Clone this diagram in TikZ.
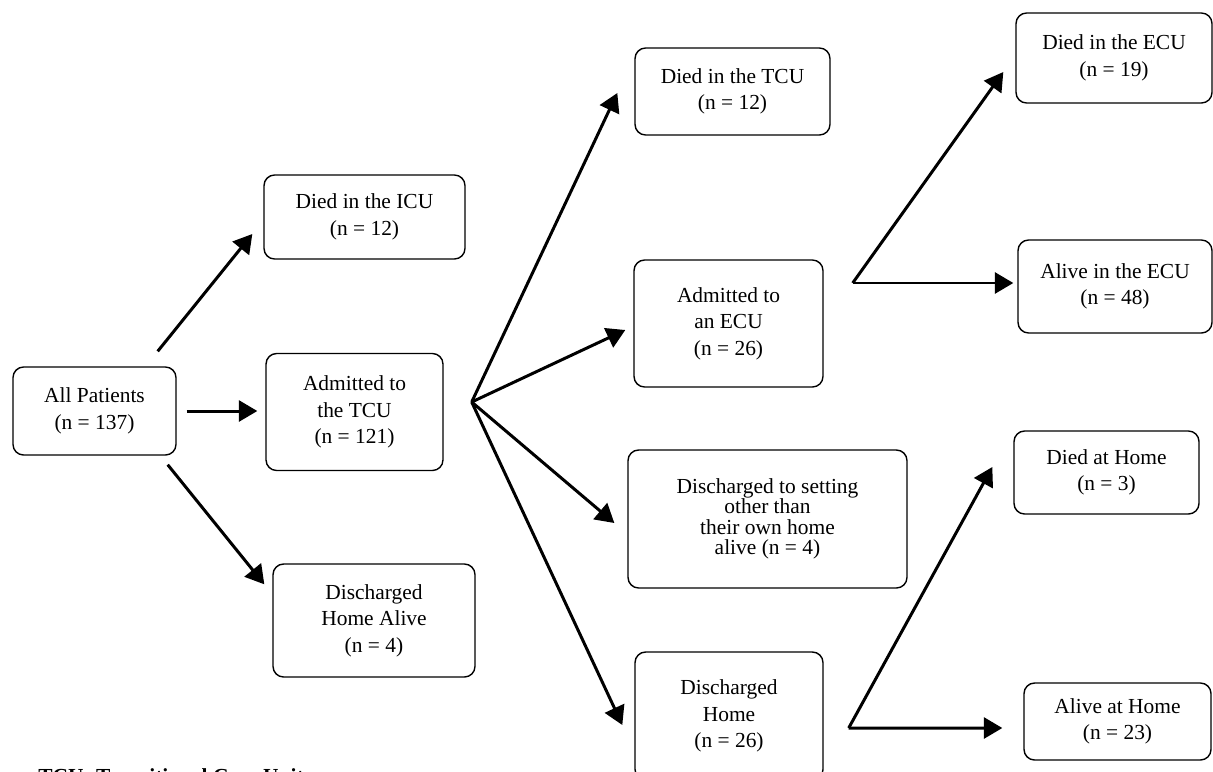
\documentclass[tikz,border=0pt]{standalone}
\usepackage{fontspec}
\setmainfont{Liberation Serif}
\usepackage{tikz}
\usetikzlibrary{shapes,arrows.meta,positioning,calc}
\definecolor{flowline}{HTML}{000000}
\tikzstyle{box} = [rectangle, draw=flowline, line width=0.8pt, rounded corners=6pt,
    align=center, inner sep=2pt, font=\fontsize{12.2}{15}\selectfont]
\tikzstyle{arrow} = [-{Triangle[length=0.37cm,width=0.42cm]}, line width=1.7pt, flowline]

\begin{document}
\begin{tikzpicture}[x=0.02cm, y=-0.02cm]
\useasboundingbox (0,0) rectangle (1213,771);

% first level
\node[box, minimum width=3.26cm, minimum height=1.76cm] (all) at (94.5,411) {All Patients\\(n = 137)};
\node[box, minimum width=4.02cm, minimum height=1.68cm] (icu) at (364.5,217) {Died in the ICU\\(n = 12)};
\node[box, minimum width=3.54cm, minimum height=2.34cm] (tcu) at (354.5,412) {Admitted to\\the TCU\\(n = 121)};
\node[box, minimum width=4.04cm, minimum height=2.26cm] (homealive) at (374,620.5) {Discharged\\Home Alive\\(n = 4)};

% second level
\node[box, minimum width=3.9cm, minimum height=1.74cm] (tcudied) at (732.5,91.5) {Died in the TCU\\(n = 12)};
\node[box, minimum width=3.78cm, minimum height=2.54cm] (ecu) at (728.5,323.5) {Admitted to\\an ECU\\(n = 26)};
\node[box, minimum width=5.58cm, minimum height=2.76cm, font=\fontsize{12.2}{11.6}\selectfont] (setting) at (767.5,519) {Discharged to setting\\other than\\their own home\\alive (n = 4)};
\node[box, minimum width=3.76cm, minimum height=2.56cm] (home) at (729,716) {Discharged\\Home\\(n = 26)};

% third level
\node[box, minimum width=3.92cm, minimum height=1.8cm] (ecudied) at (1114,58) {Died in the ECU\\(n = 19)};
\node[box, minimum width=3.88cm, minimum height=1.86cm] (ecualive) at (1115,286.5) {Alive in the ECU\\(n = 48)};
\node[box, minimum width=3.7cm, minimum height=1.66cm] (homedied) at (1106.5,472.5) {Died at Home\\(n = 3)};
\node[box, minimum width=3.74cm, minimum height=1.54cm] (homeathome) at (1117.5,721.5) {Alive at Home\\(n = 23)};

\node[anchor=north west, inner sep=0pt, font=\fontsize{12.2}{15}\selectfont\bfseries] (legend) at (38,768) {TCU: Transitional Care Unit};

% forks
\coordinate (tcufork) at ($(tcu.east)+(28,-10)$);
\coordinate (ecufork) at ($(ecu.east)+(29,-40.5)$);
\coordinate (homefork) at ($(home.east)+(25,12)$);

\draw[arrow] ($(all.north east)+(-19,-15)$) -- ($(icu.west)+(-11,17)$);
\draw[arrow] ($(all.east)+(10,0)$) -- ($(tcu.west)+(-8,-1)$);
\draw[arrow] ($(all.south east)+(-9,9)$) -- ($(homealive.north west)+(-8,21)$);

\draw[arrow] (tcufork) -- ($(tcudied.west)+(-17,1.5)$);
\draw[arrow] (tcufork) -- ($(ecu.west)+(-8,6.5)$);
\draw[arrow] (tcufork) -- ($(setting.west)+(-13,4)$);
\draw[arrow] (tcufork) -- ($(home.west)+(-12,9)$);

\draw[arrow] (ecufork) -- ($(ecudied.west)+(-12,14)$);
\draw[arrow] (ecufork) -- ($(ecualive.west)+(-4,-3.5)$);

\draw[arrow] (homefork) -- ($(homedied.west)+(-21,-5.5)$);
\draw[arrow] (homefork) -- ($(homeathome.west)+(-21,6.5)$);

\end{tikzpicture}
\end{document}
